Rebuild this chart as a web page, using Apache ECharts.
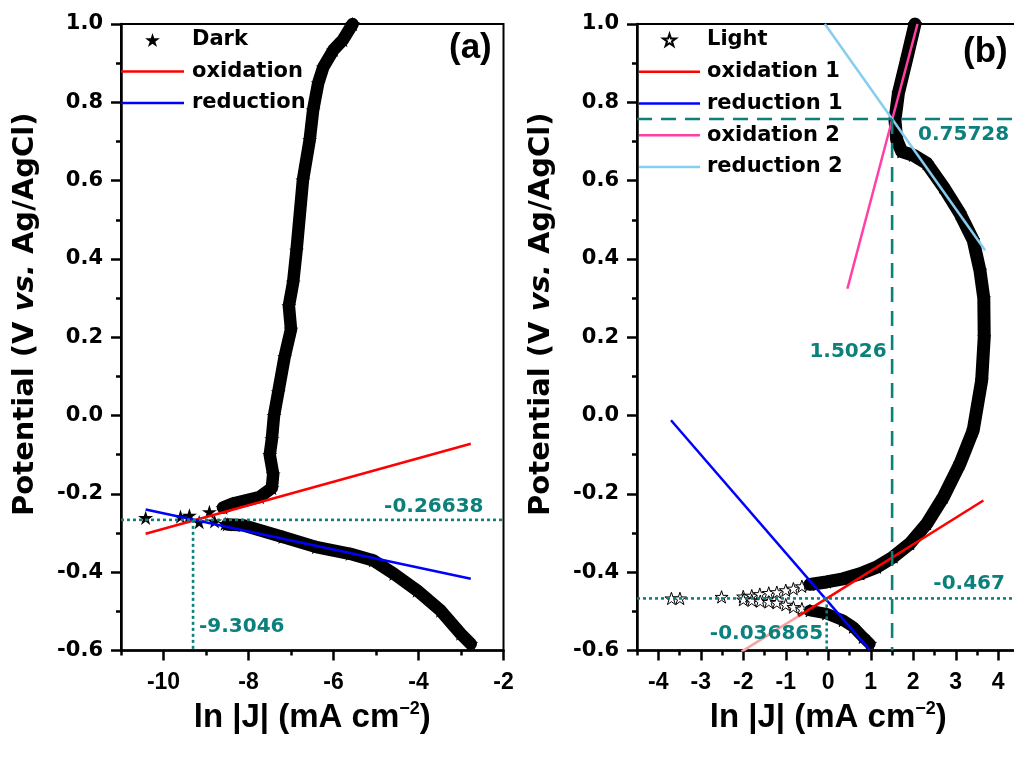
<!DOCTYPE html>
<html>
<head>
<meta charset="utf-8">
<title>Tafel plots</title>
<script src="https://cdn.jsdelivr.net/npm/echarts@6/dist/echarts.min.js"></script>
<style>
  html, body { margin: 0; padding: 0; background: #fff; }
  #chart { width: 1014px; height: 758px; }
</style>
</head>
<body>
<div id="chart"></div>
<script>
// axis extents and ticks
const xRangeA = [-11, -2];
const xRangeB = [-4.5, 4.5];
const yRange = [-0.6, 1.0];
const xTicksA = [-10, -8, -6, -4, -2];
const xMinorA = [-11, -9, -7, -5, -3];
const xTicksB = [-4, -3, -2, -1, 0, 1, 2, 3, 4];
const xMinorB = [-4.5, -3.5, -2.5, -1.5, -0.5, 0.5, 1.5, 2.5, 3.5];
const yTicks = [-0.6, -0.4, -0.2, 0, 0.2, 0.4, 0.6, 0.8, 1.0];
const yMinor = [-0.5, -0.3, -0.1, 0.1, 0.3, 0.5, 0.7, 0.9];

// (a) dark curve
const darkAnodic = [[-5.55, 1.0], [-5.78, 0.959], [-6.0, 0.934], [-6.24, 0.89], [-6.36, 0.849],
  [-6.48, 0.78], [-6.56, 0.704], [-6.72, 0.601], [-6.87, 0.422], [-6.95, 0.34], [-7.05, 0.28],
  [-7.0, 0.22], [-7.15, 0.15], [-7.3, 0.06], [-7.4, 0.0], [-7.45, -0.06], [-7.5, -0.1],
  [-7.42, -0.15], [-7.45, -0.185], [-7.74, -0.208], [-8.37, -0.225], [-8.6, -0.235]];
const darkCluster = [[-8.92, -0.246], [-9.39, -0.255], [-9.6, -0.258], [-10.42, -0.261],
  [-9.16, -0.272], [-8.8, -0.27], [-8.55, -0.276]];
const darkCathodic = [[-8.5, -0.278], [-8.13, -0.28], [-7.19, -0.31], [-6.4, -0.336], [-5.61, -0.353],
  [-5.06, -0.37], [-4.58, -0.404], [-4.03, -0.447], [-3.48, -0.498], [-3.01, -0.557], [-2.77, -0.583]];
const oxA = [[-10.42, -0.302], [-2.77, -0.072]];
const redA = [[-10.42, -0.240], [-2.77, -0.417]];
const ecorrA = -0.26638;
const lnjA = -9.3046;

// (b) light curve
const lightUpperLoose = [[-3.69, -0.467], [-3.49, -0.467], [-2.51, -0.463], [-2.0, -0.462], [-1.8, -0.46],
  [-1.61, -0.456], [-1.4, -0.453], [-1.21, -0.451], [-1.0, -0.446], [-0.82, -0.442], [-0.62, -0.436]];
const lightLowerLoose = [[-2.0, -0.47], [-1.8, -0.472], [-1.6, -0.474], [-1.4, -0.476], [-1.21, -0.478],
  [-1.0, -0.483], [-0.82, -0.489], [-0.62, -0.493]];
const lightMain = [[-0.43, -0.431], [-0.04, -0.425], [0.35, -0.417], [0.75, -0.404], [1.14, -0.387],
  [1.53, -0.361], [1.92, -0.327], [2.32, -0.276], [2.71, -0.208], [3.1, -0.123], [3.41, -0.038],
  [3.61, 0.09], [3.67, 0.2], [3.66, 0.3], [3.57, 0.37], [3.41, 0.448], [3.1, 0.516], [2.71, 0.584],
  [2.32, 0.644], [2.0, 0.665], [1.73, 0.674], [1.61, 0.704], [1.57, 0.755], [1.65, 0.823],
  [1.84, 0.908], [2.04, 1.0]];
const lightLowerBand = [[-0.43, -0.498], [-0.04, -0.506], [0.35, -0.523], [0.59, -0.54], [0.82, -0.566], [0.98, -0.583]];
const ox1B = [[-0.71, -0.513], [3.65, -0.217]];
const ox1BExt = [[-2.04, -0.603], [-0.71, -0.513]];
const red1B = [[-3.7, -0.012], [0.98, -0.599]];
const ox2B = [[0.45, 0.324], [2.1, 1.0]];
const red2B = [[-0.08, 1.0], [3.69, 0.422]];
const ecorrB = -0.467;
const lnjB = -0.036865;
const ecrossB = 0.75728;
const lncrossB = 1.5026;

const TEAL = '#0c807c';
const STAR = 'path://M0,-10L2.245,-3.09L9.511,-3.09L3.633,1.18L5.878,8.09L0,3.82L-5.878,8.09L-3.633,1.18L-9.511,-3.09L-2.245,-3.09Z';
const LINEICON = 'path://M0,0H63V2.6H0Z';
const NUMFONT = 'DejaVu Sans';
const ARIAL = 'Liberation Sans, Arial, sans-serif';

const chart = echarts.init(document.getElementById('chart'), null, { renderer: 'canvas' });

function xMain(range, ticks) {
  return {
    type: 'value', min: range[0], max: range[1], position: 'bottom',
    axisLine: { onZero: false, lineStyle: { color: '#000', width: 2.5 } },
    axisTick: { customValues: ticks, length: 10, lineStyle: { color: '#000', width: 2.5 } },
    axisLabel: { customValues: ticks, margin: 21, color: '#000', fontFamily: ARIAL, fontWeight: 'bold', fontSize: 23 },
    splitLine: { show: false },
    name: '{n|ln |J| (mA cm}{s|\u22122}{n|)}', nameLocation: 'middle', nameGap: 50,
    nameTextStyle: {
      rich: {
        n: { fontFamily: ARIAL, fontWeight: 'bold', fontSize: 33, color: '#000', lineHeight: 34 },
        s: { fontFamily: ARIAL, fontWeight: 'bold', fontSize: 18, color: '#000', verticalAlign: 'top', lineHeight: 34 }
      }
    }
  };
}
function xMinor(range, ticks) {
  return {
    type: 'value', min: range[0], max: range[1], position: 'bottom',
    axisLine: { show: false, onZero: false }, axisLabel: { show: false }, splitLine: { show: false },
    axisTick: { customValues: ticks, length: 5, lineStyle: { color: '#000', width: 2.5 } }
  };
}
function yMain(grid, pad) {
  return {
    gridIndex: grid, type: 'value', min: yRange[0], max: yRange[1], position: 'left',
    axisLine: { onZero: false, lineStyle: { color: '#000', width: 2.5 } },
    axisTick: { customValues: yTicks, length: 10, lineStyle: { color: '#000', width: 2.5 } },
    axisLabel: { customValues: yTicks, margin: 18, color: '#000', fontFamily: NUMFONT, fontWeight: 'bold', fontSize: 21,
      formatter: v => v.toFixed(1) },
    splitLine: { show: false },
    name: '{n|Potential (V }{i|vs.}{n| Ag/AgCl)}', nameLocation: 'middle', nameGap: 81,
    nameTextStyle: {
      padding: [0, 0, 0, pad],
      rich: {
        n: { fontFamily: NUMFONT, fontWeight: 'bold', fontSize: 29, color: '#000' },
        i: { fontFamily: NUMFONT, fontWeight: 'bold', fontStyle: 'italic', fontSize: 29, color: '#000' }
      }
    }
  };
}
function yMinorAxis(grid) {
  return {
    gridIndex: grid, type: 'value', min: yRange[0], max: yRange[1], position: 'left',
    axisLine: { show: false, onZero: false }, axisLabel: { show: false }, splitLine: { show: false },
    axisTick: { customValues: yMinor, length: 5, lineStyle: { color: '#000', width: 2.5 } }
  };
}
function fit(name, data, color, xi) {
  return { name: name, type: 'line', xAxisIndex: xi, yAxisIndex: xi, data: data, symbol: 'none',
    lineStyle: { color: color, width: 2.5 }, itemStyle: { color: color }, z: 4, silent: true, animation: false };
}
function band(data, xi, width) {
  return { type: 'line', xAxisIndex: xi, yAxisIndex: xi, data: data, symbol: 'none', silent: true, z: 3,
    lineStyle: { color: '#000', width: width, join: 'round', cap: 'round' }, animation: false };
}
function guide(data, xi, dash) {
  return { type: 'line', xAxisIndex: xi, yAxisIndex: xi, data: data, symbol: 'none', silent: true, z: 5,
    lineStyle: { color: TEAL, width: 2.6, type: dash }, animation: false };
}
function tag(pt, text, xi, align, offset) {
  return { type: 'scatter', xAxisIndex: xi, yAxisIndex: xi, data: [pt], symbolSize: 1, silent: true, z: 6,
    itemStyle: { color: 'rgba(0,0,0,0)', opacity: 1 }, animation: false,
    label: { show: true, position: 'inside', formatter: text, align: align, verticalAlign: 'middle', offset: offset,
      opacity: 1, color: TEAL, fontFamily: NUMFONT, fontWeight: 'bold', fontSize: 20 } };
}
function lineItem(name) { return { name: name, icon: LINEICON }; }

const option = {
  backgroundColor: '#fff',
  animation: false,
  grid: [
    { left: 121, top: 24, width: 382.5, height: 626.5, show: true, borderColor: '#000', borderWidth: 2, outerBoundsMode: 'none' },
    { left: 637, top: 24, width: 382.5, height: 626.5, show: true, borderColor: '#000', borderWidth: 2, outerBoundsMode: 'none' }
  ],
  title: [
    { text: '(a)', left: 449, top: 31, padding: 0, textStyle: { fontFamily: ARIAL, fontWeight: 'bold', fontSize: 35, color: '#000' } },
    { text: '(b)', left: 963, top: 35, padding: 0, textStyle: { fontFamily: ARIAL, fontWeight: 'bold', fontSize: 35, color: '#000' } }
  ],
  legend: [
    { orient: 'vertical', left: 121, top: 29.5, padding: 0, itemWidth: 63, itemHeight: 14, itemGap: 10.5,
      symbolKeepAspect: true, selectedMode: false,
      data: ['Dark', lineItem('oxidation'), lineItem('reduction')],
      textStyle: { fontFamily: NUMFONT, fontWeight: 'bold', fontSize: 21, color: '#000', padding: [0, 0, 0, 3] } },
    { orient: 'vertical', left: 639, top: 29.5, padding: 0, itemWidth: 61, itemHeight: 12, itemGap: 10.75,
      symbolKeepAspect: true, selectedMode: false,
      data: ['Light', lineItem('oxidation 1'), lineItem('reduction 1'), lineItem('oxidation 2'), lineItem('reduction 2')],
      textStyle: { fontFamily: NUMFONT, fontWeight: 'bold', fontSize: 21, color: '#000', padding: [0, 0, 0, 2] } }
  ],
  xAxis: [
    Object.assign({ gridIndex: 0 }, xMain(xRangeA, xTicksA)),
    Object.assign({ gridIndex: 0 }, xMinor(xRangeA, xMinorA)),
    Object.assign({ gridIndex: 1 }, xMain(xRangeB, xTicksB)),
    Object.assign({ gridIndex: 1 }, xMinor(xRangeB, xMinorB))
  ],
  yAxis: [yMain(0, 46), yMinorAxis(0), yMain(1, 46), yMinorAxis(1)],
  series: [
    // (a)
    { name: 'Dark', type: 'scatter', xAxisIndex: 0, yAxisIndex: 0, symbol: STAR, symbolSize: 15, symbolKeepAspect: true,
      data: darkAnodic.concat(darkCluster, darkCathodic), itemStyle: { color: '#000', opacity: 1 }, z: 2, silent: true },
    band(darkAnodic, 0, 12.5),
    band(darkCathodic, 0, 12.5),
    fit('oxidation', oxA, '#ff0000', 0),
    fit('reduction', redA, '#0000ff', 0),
    guide([[xRangeA[0], ecorrA], [xRangeA[1], ecorrA]], 0, [3, 3]),
    guide([[lnjA, ecorrA], [lnjA, yRange[0]]], 0, [3, 3]),
    tag([xRangeA[1], ecorrA], String(ecorrA), 0, 'right', [-20, -13.5]),
    tag([lnjA, yRange[0]], String(lnjA), 0, 'left', [6, -23.5]),
    // (b)
    { name: 'Light', type: 'scatter', xAxisIndex: 2, yAxisIndex: 2, symbol: STAR, symbolSize: 13, symbolKeepAspect: true,
      data: lightUpperLoose.concat(lightLowerLoose, lightMain, lightLowerBand),
      itemStyle: { color: '#fff', borderColor: '#000', borderWidth: 1, opacity: 1 }, z: 2, silent: true },
    band(lightMain, 2, 13),
    band(lightLowerBand, 2, 11.5),
    fit('oxidation 1', ox1B, '#ff0000', 2),
    fit('', ox1BExt, '#f7a3a3', 2),
    fit('reduction 1', red1B, '#0000ff', 2),
    fit('oxidation 2', ox2B, '#ff3fa6', 2),
    fit('reduction 2', red2B, '#86cdef', 2),
    guide([[xRangeB[0], ecorrB], [xRangeB[1], ecorrB]], 2, [3, 3]),
    guide([[lnjB, ecorrB], [lnjB, yRange[0]]], 2, [3, 3]),
    guide([[xRangeB[0], ecrossB], [xRangeB[1], ecrossB]], 2, [15, 9]),
    guide([[lncrossB, ecrossB], [lncrossB, yRange[0]]], 2, [15, 9]),
    tag([xRangeB[1], ecorrB], String(ecorrB), 2, 'right', [-14.6, -14.5]),
    tag([lnjB, yRange[0]], String(lnjB), 2, 'right', [-3.5, -17]),
    tag([lncrossB, ecrossB], String(ecrossB), 2, 'left', [26, 16]),
    tag([lncrossB, ecrossB], String(lncrossB), 2, 'right', [-5.5, 232.5])
  ]
};
chart.setOption(option);
</script>
</body>
</html>
